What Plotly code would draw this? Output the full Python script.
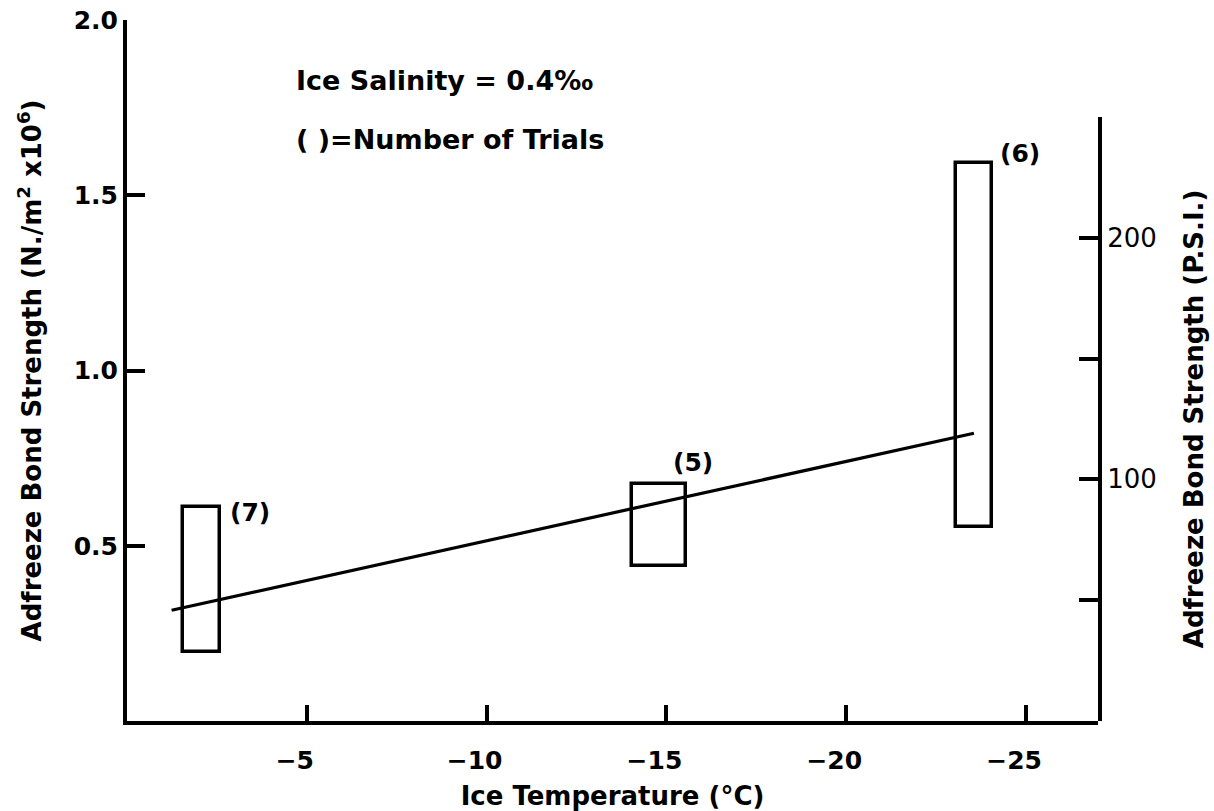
import plotly.graph_objects as go

# Test groups: ice temperature at the centre of each box (°C) and box width
temp_center = [-2.07, -14.8, -23.55]
temp_width = [1.05, 1.5, 1.0]
# Range of measured adfreeze bond strength in each group (N/m² x 10^6)
strength_low = [0.197, 0.442, 0.553]
strength_high = [0.610, 0.676, 1.591]
# Number of trials in each group
trials = [7, 5, 6]

# End points of the fitted trend line
fit_temp = [-1.24, -23.55]
fit_strength = [0.316, 0.821]

x_ticks = [-5, -10, -15, -20, -25]
y_ticks = [0.5, 1.0, 1.5, 2.0]
y_labels = ["0.5", "1.0", "1.5", "2.0"]
psi_ticks = [100, 200]
psi_minor_ticks = [50, 150, 250]

PSI_PER_MPA = 145.038
Y_MAX = 2.0
PSI_MAX = 250

FONT = "DejaVu Sans"
bold = dict(family=FONT, size=26, color="black", weight="bold")

fig = go.Figure()

# Boxes showing the spread of each group
fig.add_trace(go.Bar(
    x=temp_center,
    y=[h - l for h, l in zip(strength_high, strength_low)],
    base=strength_low,
    width=temp_width,
    marker=dict(color="rgba(0,0,0,0)", line=dict(color="black", width=3.5)),
    showlegend=False,
    hoverinfo="skip",
))

# Trend line, drawn against the P.S.I. scale
fig.add_trace(go.Scatter(
    x=fit_temp,
    y=[v * PSI_PER_MPA for v in fit_strength],
    yaxis="y2",
    mode="lines",
    line=dict(color="black", width=3.2),
    showlegend=False,
    hoverinfo="skip",
))

# Number-of-trials labels next to each box
label_dx = [8, -15, 6]
label_dy = [-5, 22, 10]
for c, w, hi, n, dx, dy in zip(temp_center, temp_width, strength_high, trials, label_dx, label_dy):
    fig.add_annotation(
        x=c - w / 2, y=hi, xref="x", yref="y",
        text=f"({n})", showarrow=False,
        xanchor="left", yanchor="middle",
        xshift=dx, yshift=dy,
        font=dict(family=FONT, size=25, color="black", weight="bold"),
    )

fig.add_annotation(
    x=0.172, y=0.913, xref="paper", yref="paper",
    text="Ice Salinity = 0.4‰", showarrow=False,
    xanchor="left", yanchor="middle", font=dict(bold, size=27),
)
fig.add_annotation(
    x=0.172, y=0.829, xref="paper", yref="paper",
    text="( )=Number of Trials", showarrow=False,
    xanchor="left", yanchor="middle", font=dict(bold, size=27),
)

axis_common = dict(
    tickcolor="black", showline=True, linecolor="black", linewidth=4,
    showgrid=False, zeroline=False, automargin=False,
)

fig.update_layout(
    width=1214, height=811,
    margin=dict(l=127, r=116, t=20, b=90),
    paper_bgcolor="white", plot_bgcolor="rgba(0,0,0,0)",
    bargap=0,
    xaxis=dict(
        axis_common,
        range=[0, -27],
        tickvals=x_ticks,
        ticktext=[f"\u2212{abs(v)}" for v in x_ticks],
        ticks="inside", ticklen=16, tickwidth=4,
        tickfont=dict(bold, size=25),
        ticklabelshift=12,
        ticklabelstandoff=14,
        title=dict(text="Ice Temperature (°C)", font=bold, standoff=18),
    ),
    yaxis=dict(
        axis_common,
        range=[0, Y_MAX],
        tickvals=y_ticks, ticktext=y_labels,
        ticks="inside", ticklen=18, tickwidth=4,
        tickfont=dict(bold, size=25),
        title=dict(text="Adfreeze Bond Strength (N./m<sup>2</sup> x10<sup>6</sup>)",
                   font=bold, standoff=26),
    ),
    yaxis2=dict(
        axis_common,
        domain=[0, PSI_MAX / PSI_PER_MPA / Y_MAX],
        range=[0, PSI_MAX],
        anchor="x", side="right",
        tickvals=psi_ticks,
        ticks="inside", ticklen=19, tickwidth=4,
        minor=dict(tickvals=psi_minor_ticks, ticks="inside", ticklen=19,
                   tickwidth=4, tickcolor="black", showgrid=False),
        tickfont=dict(family=FONT, size=26, color="black"),
        title=dict(text="Adfreeze Bond Strength (P.S.I.)", font=bold, standoff=30),
    ),
)

fig.write_html("out.html")
